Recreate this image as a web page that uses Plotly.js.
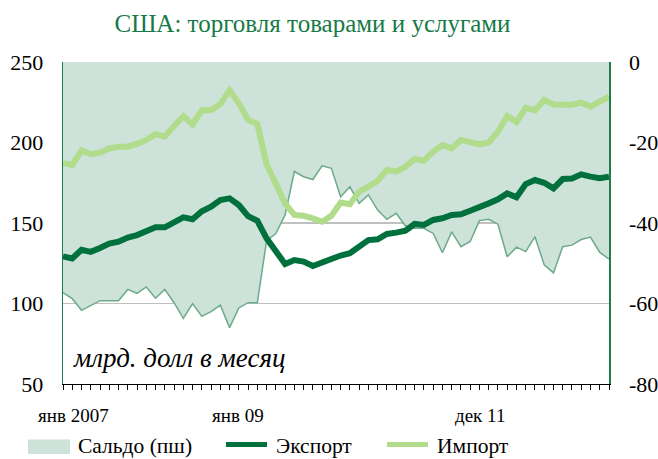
<!DOCTYPE html>
<html><head><meta charset="utf-8">
<script src="https://cdn.plot.ly/plotly-3.0.1.min.js"></script>
<style>html,body{margin:0;padding:0;background:#fff}#chart{width:658px;height:459px}</style>
</head><body><div id="chart"></div>
<script>
const monthNames = ["янв","фев","мар","апр","май","июн","июл","авг","сен","окт","ноя","дек"];
const years = ["2007","2008","2009","2010","2011"];
const months = [];
years.forEach(function(y){ monthNames.forEach(function(m){ months.push(m + " " + y); }); });

const exportVals = [129.3,128.0,133.4,132.1,134.5,137.2,138.4,141.0,142.5,144.8,147.3,147.3,
  150.8,153.5,152.3,157.3,160.1,164.3,165.3,161.2,154.3,151.4,140.5,132.2,
  124.5,127.0,126.0,123.3,125.6,128.1,129.8,131.2,134.9,139.4,139.9,143.2,
  144.0,145.2,149.4,148.8,151.9,152.9,155.0,155.4,157.6,160.4,162.2,164.7,
  168.4,166.0,174.2,176.7,175.0,171.5,177.3,177.6,180.2,178.8,177.8,178.8];
const importVals = [187.3,186.0,195.1,192.7,193.7,196.3,197.4,197.4,199.1,201.6,205.2,203.8,
  210.2,216.3,211.2,220.0,220.0,223.8,232.4,224.3,214.0,211.5,186.5,174.6,
  162.2,155.0,154.5,152.9,150.8,154.5,162.7,161.6,169.5,172.6,176.3,182.9,
  181.9,185.0,189.8,188.7,194.3,198.4,196.4,201.6,200.3,198.8,200.0,206.7,
  216.5,212.6,221.5,220.0,226.4,223.6,223.5,223.5,224.8,222.2,225.4,228.4];
const balanceVals = [-57.3,-58.8,-61.7,-60.4,-59.3,-59.3,-59.3,-56.5,-57.5,-55.9,-58.7,-56.5,
  -59.8,-63.7,-60.0,-63.2,-62.0,-60.4,-66.0,-61.1,-59.8,-59.8,-44.4,-42.6,
  -38.0,-27.2,-28.5,-29.2,-25.8,-26.4,-33.5,-31.0,-35.1,-33.0,-36.8,-39.1,
  -37.6,-40.7,-41.3,-41.3,-42.6,-47.4,-42.2,-45.9,-44.6,-39.4,-39.1,-40.3,
  -48.4,-46.0,-47.1,-43.4,-50.4,-52.4,-45.9,-45.5,-44.1,-43.5,-47.3,-49.0];

const xTickLabels = ["янв 2007","янв 09","дек 11"];
const leftTickVals = [50, 100, 150, 200, 250];
const rightTickVals = [-80, -60, -40, -20, 0];
const rightTickText = ["-80", "-60", "-40", "-20", "0"];
const seriesNames = ["Сальдо (пш)","Экспорт","Импорт"];
const unitNote = "млрд. долл в месяц";
const chartTitle = "США: торговля товарами и услугами";

const FONT = "Liberation Serif, Times New Roman, serif";
const C_FILL = "rgb(205,226,216)";
const C_BAL = "rgb(108,170,138)";
const C_EXP = "rgb(0,112,60)";
const C_IMP = "rgb(176,220,140)";
const C_TITLE = "rgb(22,122,70)";
const C_AXIS = "rgb(30,125,75)";

// main axis (y) = balance on the right; overlay (y2) = export/import on the left
const traces = [
  {x: months, y: balanceVals, yaxis: "y", type: "scatter", mode: "lines",
   fill: "tozeroy", fillcolor: C_FILL, line: {color: C_BAL, width: 1.5},
   name: seriesNames[0], showlegend: false},
  {x: months, y: importVals, yaxis: "y2", type: "scatter", mode: "lines",
   line: {color: C_IMP, width: 6}, name: seriesNames[2], showlegend: false},
  {x: months, y: exportVals, yaxis: "y2", type: "scatter", mode: "lines",
   line: {color: C_EXP, width: 6}, name: seriesNames[1], showlegend: false}
];

const L = 63, R = 609, T = 62, B = 384, W = 658, H = 459;
const px = function(v){ return (v - L) / (R - L); };
const py = function(v){ return (B - v) / (B - T); };

const annotations = [
  {text: xTickLabels[0], x: px(73.5), y: py(415)},
  {text: xTickLabels[1], x: px(237.5), y: py(415)},
  {text: xTickLabels[2], x: px(480), y: py(415)}
].map(function(a){
  return Object.assign({xref: "paper", yref: "paper", xanchor: "center", yanchor: "middle",
    showarrow: false, font: {family: FONT, size: 19, color: "#000"}}, a);
});
annotations.push({text: "<i>" + unitNote + "</i>", xref: "paper", yref: "paper",
  x: px(71), y: py(358), xanchor: "left", yanchor: "middle", showarrow: false,
  font: {family: FONT, size: 27, color: "#000"}});
const legendTexts = [[seriesNames[0], 76], [seriesNames[1], 274], [seriesNames[2], 435]];
legendTexts.forEach(function(t){
  annotations.push({text: t[0], xref: "paper", yref: "paper", x: px(t[1]), y: py(446),
    xanchor: "left", yanchor: "middle", showarrow: false,
    font: {family: FONT, size: 21.5, color: "#000"}});
});

const shapes = [
  {type: "rect", xref: "paper", yref: "paper", x0: px(28), x1: px(70), y0: py(439.5), y1: py(454),
   fillcolor: C_FILL, line: {width: 0}},
  {type: "line", xref: "paper", yref: "paper", x0: px(226), x1: px(267), y0: py(444.5), y1: py(444.5),
   line: {color: C_EXP, width: 5}},
  {type: "line", xref: "paper", yref: "paper", x0: px(387), x1: px(428), y0: py(444.5), y1: py(444.5),
   line: {color: C_IMP, width: 5}}
];

const layout = {
  width: W, height: H,
  margin: {l: L, r: W - R, t: T, b: H - B, pad: 0},
  paper_bgcolor: "#fff", plot_bgcolor: "#fff",
  font: {family: FONT, size: 22, color: "#000"},
  showlegend: false,
  title: {text: chartTitle, x: 312.5 / W, xanchor: "center", xref: "container",
    y: 1 - 23 / H, yanchor: "middle", yref: "container",
    font: {family: FONT, size: 25, color: C_TITLE}},
  xaxis: {type: "category", range: [0, months.length - 1], showgrid: false, zeroline: false,
    showline: true, linecolor: "#000", linewidth: 1, ticks: "outside", ticklen: 5,
    tickcolor: "#000", tickwidth: 1, dtick: 1, showticklabels: false, fixedrange: true},
  yaxis: {side: "right", range: [-80, 0], tickmode: "array", tickvals: rightTickVals,
    ticktext: rightTickText, showgrid: true, gridcolor: "rgb(192,192,192)", gridwidth: 1.3,
    zeroline: false, showline: true, linecolor: C_AXIS, linewidth: 1.5, ticks: "",
    ticklabelstandoff: 14, tickfont: {family: FONT, size: 22, color: "#000"}, fixedrange: true},
  yaxis2: {overlaying: "y", side: "left", range: [50, 250], tickmode: "array",
    tickvals: leftTickVals, showgrid: false, zeroline: false, showline: true,
    linecolor: C_AXIS, linewidth: 1.3, ticks: "", ticklabelstandoff: 14,
    tickfont: {family: FONT, size: 22, color: "#000"}, fixedrange: true},
  annotations: annotations,
  shapes: shapes
};

Plotly.newPlot("chart", traces, layout, {displayModeBar: false, staticPlot: true});
</script>
</body></html>
